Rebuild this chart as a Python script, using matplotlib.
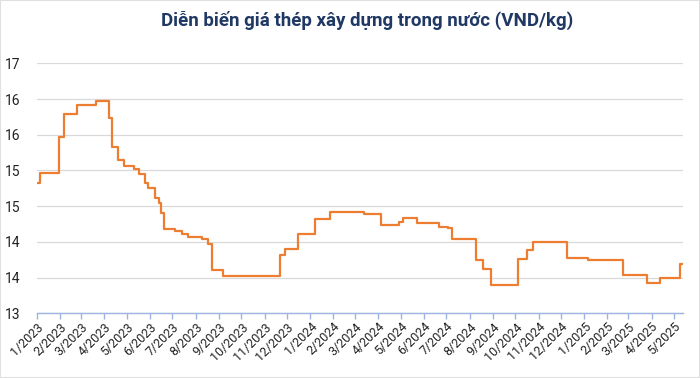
import matplotlib
matplotlib.use("Agg")
import matplotlib.pyplot as plt
import matplotlib.dates as mdates
import numpy as np
import pandas as pd

plt.rcParams['font.family'] = ['Roboto', 'DejaVu Sans']

title = "Diễn biến giá thép xây dựng trong nước (VND/kg)"

change_dates = [
    "2023-01-01", "2023-01-05", "2023-01-30", "2023-02-06", "2023-02-23",
    "2023-03-21", "2023-04-07", "2023-04-11", "2023-04-19", "2023-04-27",
    "2023-05-11", "2023-05-17", "2023-05-25", "2023-05-29", "2023-06-07",
    "2023-06-13", "2023-06-16", "2023-06-20", "2023-07-05", "2023-07-14",
    "2023-07-22", "2023-08-09", "2023-08-17", "2023-08-23", "2023-09-06",
    "2023-11-22", "2023-11-28", "2023-12-16", "2024-01-08", "2024-01-28",
    "2024-03-13", "2024-04-04", "2024-04-29", "2024-05-04", "2024-05-23",
    "2024-06-21", "2024-07-03", "2024-07-09", "2024-08-10", "2024-08-19",
    "2024-08-29", "2024-10-05", "2024-10-16", "2024-10-24", "2024-12-09",
    "2025-01-06", "2025-02-22", "2025-03-26", "2025-04-12", "2025-05-09",
    "2025-05-12",
]
prices = [
    14.83, 14.97, 15.47, 15.79, 15.92,
    15.97, 15.73, 15.33, 15.15, 15.06,
    15.02, 14.95, 14.83, 14.76, 14.62,
    14.55, 14.41, 14.18, 14.15, 14.11,
    14.07, 14.04, 13.97, 13.60, 13.52,
    13.82, 13.90, 14.11, 14.32, 14.42,
    14.39, 14.23, 14.28, 14.34, 14.27,
    14.21, 14.19, 14.04, 13.74, 13.62,
    13.39, 13.76, 13.89, 14.00, 13.78,
    13.74, 13.53, 13.42, 13.49, 13.69,
    13.69,
]
tick_months = pd.date_range("2023-01-01", "2025-05-01", freq="MS")
tick_labels = [f"{d.month}/{d.year}" for d in tick_months]
y_ticks = [13.0, 13.5, 14.0, 14.5, 15.0, 15.5, 16.0, 16.5]

dates = pd.to_datetime(change_dates)

fig = plt.figure(figsize=(7, 3.78), dpi=100)
ax = fig.add_axes([37/700, 1-313.3/378, (683-37)/700, (313.3-63.3)/378])

ax.step(dates, prices, where='post', color='#ED7D31', linewidth=1.6, zorder=3)

ax.set_ylim(13, 16.5)
ax.set_xlim(pd.Timestamp("2023-01-01"), pd.Timestamp("2025-05-13"))
ax.set_yticks(y_ticks)
ax.set_yticklabels([str(int(np.floor(v + 0.5))) for v in y_ticks])
ax.set_xticks(tick_months)
ax.set_xticklabels(tick_labels, rotation=45, ha='right', rotation_mode='anchor')

ax.grid(axis='y', color='#d9d9d9', linewidth=0.9)
ax.set_axisbelow(True)
for s in ['top', 'right', 'left']:
    ax.spines[s].set_visible(False)
ax.spines['bottom'].set_color('#9db4e0')
ax.spines['bottom'].set_linewidth(1.0)
ax.tick_params(axis='y', length=0, pad=12, labelsize=10, labelcolor='#222222')
ax.tick_params(axis='x', length=4, color='#9db4e0', width=1.0, pad=1, labelsize=9, labelcolor='#222222')

fig.text(0.525, 0.945, title, ha='center', va='center', fontsize=13.5,
         fontweight='bold', color='#1f3864')

fig.patches.append(plt.Rectangle((0, 0), 1, 1, transform=fig.transFigure,
                                 fill=False, edgecolor='#e0e0e0', linewidth=1.5))

fig.savefig("out.png", dpi=100)
